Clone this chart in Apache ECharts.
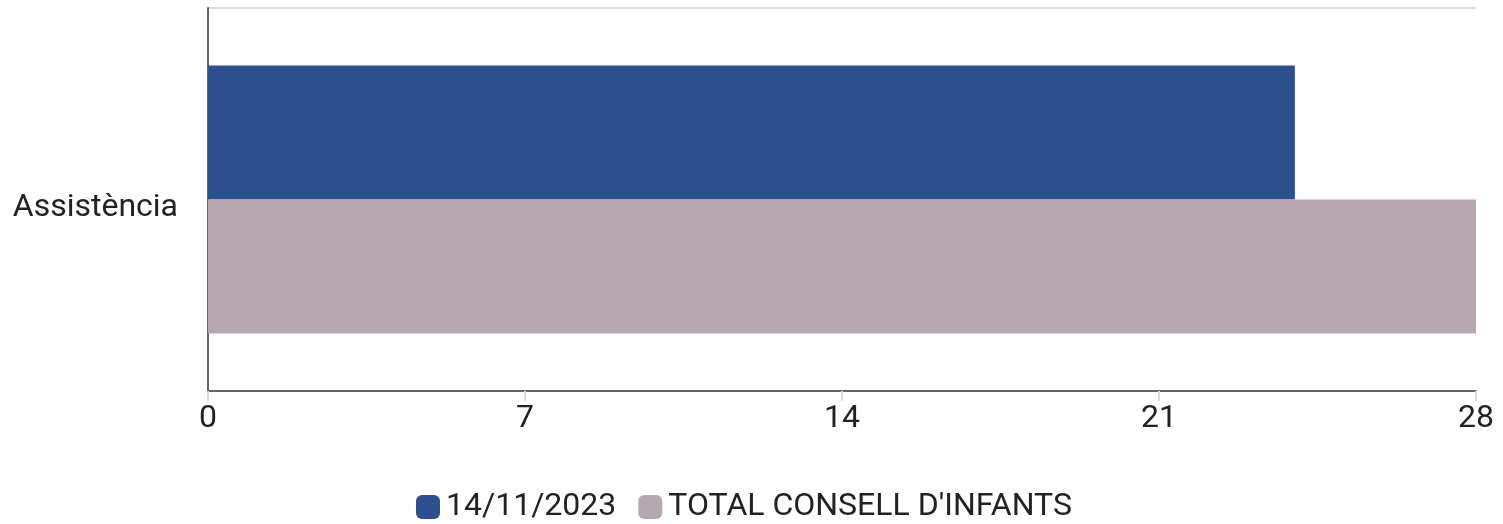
<!DOCTYPE html>
<html><head><meta charset="utf-8">
<script src="https://cdn.jsdelivr.net/npm/echarts@6/dist/echarts.min.js"></script>
<style>html,body{margin:0;padding:0;background:#fff}#c{width:1503px;height:524px}</style>
</head><body><div id="c"></div>
<script>
const categories = ['Assistència'];
const seriesNames = ['14/11/2023', 'TOTAL CONSELL D\'INFANTS'];
const values2023 = [24];
const valuesTotal = [28];
const xTicks = [0, 7, 14, 21, 28];

const chart = echarts.init(document.getElementById('c'));
chart.setOption({
  animation: false,
  textStyle: { fontFamily: 'Roboto' },
  grid: { left: 208, right: 27, top: 8, bottom: 133, containLabel: false },
  legend: {
    bottom: -4, left: 411,
    itemWidth: 24, itemHeight: 24, itemGap: 22,
    icon: 'roundRect',
    textStyle: { fontSize: 32, color: '#222', fontFamily: 'Roboto', padding: [0, 0, 0, 1] },
    data: seriesNames
  },
  xAxis: {
    type: 'value', min: xTicks[0], max: xTicks[xTicks.length - 1], interval: 7,
    axisLine: { show: true, lineStyle: { color: '#666', width: 2 } },
    axisTick: { show: true, length: 10, lineStyle: { color: '#ddd', width: 2 } },
    splitLine: { show: false },
    axisLabel: { fontSize: 32, color: '#222', margin: 12, fontFamily: 'Roboto' }
  },
  yAxis: {
    type: 'category', data: categories, inverse: true,
    axisLine: { show: true, lineStyle: { color: '#666', width: 2 } },
    axisTick: { show: false },
    splitLine: { show: true, lineStyle: { color: '#ddd', width: 2 } },
    axisLabel: {
      margin: 30,
      formatter: v => '{a|' + v + '}',
      rich: { a: { fontSize: 32, color: '#222', fontFamily: 'Roboto', padding: [16, 0, 0, 0] } }
    }
  },
  series: [
    { name: seriesNames[0], type: 'bar', data: values2023, barGap: '0%', barCategoryGap: '30%',
      itemStyle: { color: '#2e4f8e' } },
    { name: seriesNames[1], type: 'bar', data: valuesTotal, barGap: '0%', barCategoryGap: '30%',
      itemStyle: { color: '#b7a7b0' } }
  ]
});
</script></body></html>
